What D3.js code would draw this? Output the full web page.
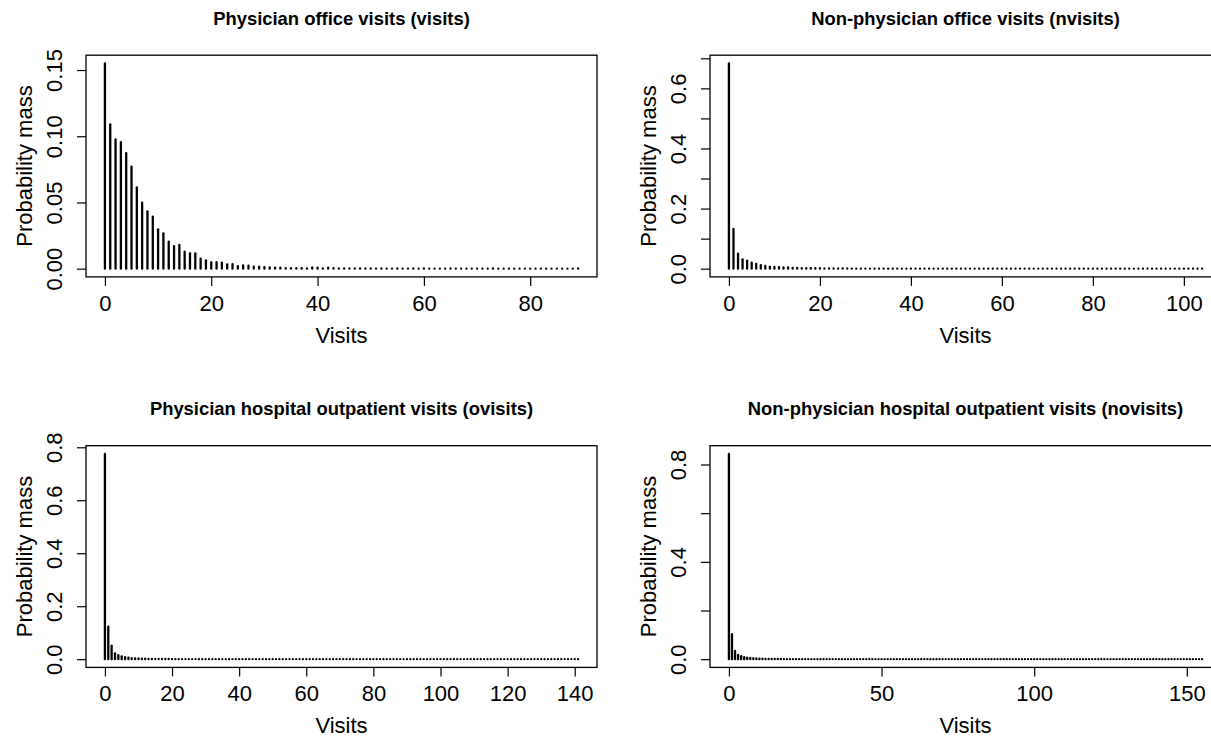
<!DOCTYPE html>
<html>
<head>
<meta charset="utf-8">
<script src="https://cdn.jsdelivr.net/npm/d3@7"></script>
<style>
  body { margin: 0; background: #fff; }
  svg { display: block; font-family: "Liberation Sans", Arial, Helvetica, sans-serif; }
</style>
</head>
<body>
<svg id="chart" width="1211" height="738"></svg>
<script>
// probability mass by number of visits (index = visits)
const visitsPmf = [
  0.155, 0.109, 0.0976, 0.0956, 0.0873, 0.0770, 0.0614, 0.0498, 0.0433, 0.0392,
  0.0297, 0.0267, 0.0204, 0.0171, 0.0179, 0.0128, 0.0116, 0.0116, 0.0075, 0.0063,
  0.0048, 0.0050, 0.0045, 0.0033, 0.0035, 0.0020, 0.0025, 0.0023, 0.0015, 0.0015,
  0.0011, 0.0009, 0.0007, 0.0007, 0.0005, 0.0005, 0.0005, 0.0005, 0.0002, 0.0009,
  0.0007, 0.0002, 0.0007, 0.0005, 0.0002, 0.0002, 0.0002, 0.0002, 0.0002, 0.0002,
  0.0002, 0, 0.0002, 0, 0, 0.0002, 0, 0, 0.0002, 0,
  0.0002, 0, 0, 0, 0, 0.0002, 0, 0, 0, 0,
  0, 0, 0, 0.0002, 0, 0, 0, 0, 0, 0,
  0, 0, 0, 0, 0, 0, 0, 0, 0, 0.0002
];

const nvisitsPmf = [
  0.683, 0.132, 0.050, 0.031, 0.027, 0.020, 0.016, 0.012, 0.009, 0.007,
  0.006, 0.005, 0.004, 0.004, 0.003, 0.003, 0.002, 0.002, 0.002, 0.0015,
  0.0015, 0.001, 0.001, 0.001, 0.0008, 0.0008, 0.0007, 0.0005, 0.0005, 0.0005,
  0.0005, 0.0002, 0.0005, 0.0002, 0.0002, 0.0005, 0.0002, 0.0002, 0.0002, 0.0002,
  0.0002, 0, 0.0002, 0, 0.0002, 0, 0.0002, 0, 0, 0.0002,
  0, 0.0002, 0, 0, 0.0002, 0, 0, 0, 0.0002, 0,
  0, 0, 0.0002, 0, 0, 0, 0, 0, 0.0002, 0,
  0, 0, 0, 0, 0, 0.0002, 0, 0, 0, 0,
  0, 0.0002, 0, 0, 0, 0, 0, 0, 0, 0,
  0, 0, 0, 0.0002, 0, 0, 0, 0, 0, 0,
  0, 0, 0, 0, 0.0002
];

const ovisitsPmf = [
  0.775, 0.123, 0.051, 0.022, 0.015, 0.011, 0.008, 0.006, 0.004, 0.003,
  0.003, 0.002, 0.002, 0.0015, 0.0012, 0.001, 0.001, 0.0008, 0.0007, 0.0007,
  0.0005, 0.0005, 0.0005, 0.0002, 0.0005, 0.0002, 0.0002, 0.0002, 0.0005, 0.0002,
  0.0002, 0.0002, 0, 0.0002, 0, 0.0002, 0, 0.0002, 0.0002, 0,
  0.0002, 0, 0, 0.0002, 0, 0, 0.0002, 0, 0, 0,
  0.0002, 0, 0, 0, 0, 0.0002, 0, 0, 0, 0,
  0, 0.0002, 0, 0, 0, 0, 0, 0, 0, 0,
  0, 0, 0, 0, 0.0002, 0, 0, 0, 0, 0,
  0, 0, 0, 0, 0, 0, 0, 0, 0, 0,
  0, 0, 0, 0, 0, 0, 0, 0, 0, 0,
  0, 0, 0, 0, 0, 0, 0, 0, 0, 0,
  0, 0, 0, 0, 0, 0, 0, 0, 0, 0,
  0, 0, 0, 0, 0, 0, 0, 0, 0, 0,
  0, 0, 0, 0, 0, 0, 0, 0, 0, 0,
  0, 0.0002
];

const novisitsPmf = [
  0.8435, 0.103, 0.034, 0.018, 0.012, 0.008, 0.006, 0.005, 0.004, 0.003,
  0.002, 0.002, 0.0015, 0.0012, 0.001, 0.001, 0.0008, 0.0007, 0.0005, 0.0005,
  0.0005, 0.0002, 0.0005, 0.0002, 0.0002, 0.0002, 0.0002, 0, 0.0002, 0.0002,
  0, 0.0002, 0, 0, 0.0002, 0, 0, 0.0002, 0, 0,
  0.0002, 0, 0, 0, 0, 0.0002, 0, 0, 0, 0,
  0.0002, 0, 0, 0, 0, 0, 0.0002, 0, 0, 0,
  0, 0, 0, 0, 0.0002, 0, 0, 0, 0, 0,
  0, 0, 0, 0, 0, 0, 0, 0, 0, 0,
  0, 0, 0, 0, 0, 0, 0, 0, 0, 0,
  0, 0, 0, 0, 0, 0, 0, 0, 0, 0,
  0, 0, 0, 0, 0, 0, 0, 0, 0, 0,
  0, 0, 0, 0, 0, 0, 0, 0, 0, 0,
  0, 0, 0, 0, 0, 0, 0, 0, 0, 0,
  0, 0, 0, 0, 0, 0, 0, 0, 0, 0,
  0, 0, 0, 0, 0, 0, 0, 0, 0, 0,
  0, 0, 0, 0, 0, 0.0002
];

const titles = [
  "Physician office visits (visits)",
  "Non-physician office visits (nvisits)",
  "Physician hospital outpatient visits (ovisits)",
  "Non-physician hospital outpatient visits (novisits)"
];
const xLabel = "Visits";
const yLabel = "Probability mass";

const visitsXTicks = [0, 20, 40, 60, 80];
const nvisitsXTicks = [0, 20, 40, 60, 80, 100];
const ovisitsXTicks = [0, 20, 40, 60, 80, 100, 120, 140];
const novisitsXTicks = [0, 50, 100, 150];

const visitsYTicks = [0, 0.05, 0.10, 0.15];
const nvisitsYTicks = [0, 0.1, 0.2, 0.3, 0.4, 0.5, 0.6, 0.7];
const ovisitsYTicks = [0, 0.2, 0.4, 0.6, 0.8];
const novisitsYTicks = [0, 0.2, 0.4, 0.6, 0.8];

// R drops labels that would overlap, ticks stay
const visitsYLabels = ["0.00", "0.05", "0.10", "0.15"];
const nvisitsYLabels = ["0.0", "", "0.2", "", "0.4", "", "0.6", ""];
const ovisitsYLabels = ["0.0", "0.2", "0.4", "0.6", "0.8"];
const novisitsYLabels = ["0.0", "", "0.4", "", "0.8"];

const panels = [
  { pmf: visitsPmf, title: titles[0], xTicks: visitsXTicks, yTicks: visitsYTicks, yLabels: visitsYLabels, col: 0, row: 0 },
  { pmf: nvisitsPmf, title: titles[1], xTicks: nvisitsXTicks, yTicks: nvisitsYTicks, yLabels: nvisitsYLabels, col: 1, row: 0 },
  { pmf: ovisitsPmf, title: titles[2], xTicks: ovisitsXTicks, yTicks: ovisitsYTicks, yLabels: ovisitsYLabels, col: 0, row: 1 },
  { pmf: novisitsPmf, title: titles[3], xTicks: novisitsXTicks, yTicks: novisitsYTicks, yLabels: novisitsYLabels, col: 1, row: 1 }
];

const colLeft = [86, 710];
const rowTop = [55.2, 445.7];
const boxW = 511;
const boxH = 221.7;
const tickLen = 9;

const svg = d3.select("#chart");
svg.append("rect").attr("width", 1211).attr("height", 738).attr("fill", "#fff");

panels.forEach(p => {
  const left = colLeft[p.col];
  const top = rowTop[p.row];
  const n = p.pmf.length - 1;
  const yMax = d3.max(p.pmf);

  // R style 4% padding on both ends
  const x = d3.scaleLinear().domain([-0.04 * n, 1.04 * n]).range([left, left + boxW]);
  const y = d3.scaleLinear().domain([-0.04 * yMax, 1.04 * yMax]).range([top + boxH, top]);

  const g = svg.append("g");

  // bars (type = "h")
  g.append("g")
    .selectAll("line")
    .data(p.pmf)
    .join("line")
    .attr("x1", (d, i) => x(i))
    .attr("x2", (d, i) => x(i))
    .attr("y1", y(0))
    .attr("y2", d => Math.min(y(d), y(0) - 0.01))
    .attr("stroke", "#000")
    .attr("stroke-width", 2.3)
    .attr("stroke-linecap", "round");

  // box
  g.append("rect")
    .attr("x", left).attr("y", top)
    .attr("width", boxW).attr("height", boxH)
    .attr("fill", "none")
    .attr("stroke", "#000")
    .attr("stroke-width", 1.3);

  // x axis
  const xAxis = g.append("g")
    .attr("transform", `translate(0,${top + boxH})`)
    .call(d3.axisBottom(x).tickValues(p.xTicks).tickSize(tickLen).tickSizeOuter(0).tickPadding(0).tickFormat(d3.format("d")));
  xAxis.select(".domain").remove();
  xAxis.selectAll(".tick line").attr("stroke-width", 1.2);
  xAxis.selectAll(".tick text")
    .attr("y", 26).attr("dy", "0.35em")
    .attr("font-size", 22).attr("fill", "#000")
    .attr("font-family", "Liberation Sans, Arial, sans-serif");

  // y axis
  const yAxis = g.append("g")
    .attr("transform", `translate(${left},0)`)
    .call(d3.axisLeft(y).tickValues(p.yTicks).tickSize(tickLen).tickSizeOuter(0)
      .tickFormat((d, i) => p.yLabels[i]));
  yAxis.select(".domain").remove();
  yAxis.selectAll(".tick line").attr("stroke-width", 1.2);
  yAxis.selectAll(".tick text")
    .attr("transform", "rotate(-90)")
    .attr("x", 0).attr("y", -32).attr("dy", "0.35em")
    .attr("text-anchor", "middle")
    .attr("font-size", 22).attr("fill", "#000")
    .attr("font-family", "Liberation Sans, Arial, sans-serif");

  // titles and labels
  g.append("text")
    .attr("x", left + boxW / 2).attr("y", top - 30.7)
    .attr("text-anchor", "middle")
    .attr("font-size", 18.4).attr("font-weight", "bold")
    .text(p.title);

  g.append("text")
    .attr("x", left + boxW / 2).attr("y", top + boxH + 58)
    .attr("dy", "0.35em")
    .attr("text-anchor", "middle")
    .attr("font-size", 22)
    .text(xLabel);

  g.append("text")
    .attr("transform", `translate(${left - 62},${top + boxH / 2}) rotate(-90)`)
    .attr("dy", "0.35em")
    .attr("text-anchor", "middle")
    .attr("font-size", 22)
    .text(yLabel);
});
</script>
</body>
</html>
